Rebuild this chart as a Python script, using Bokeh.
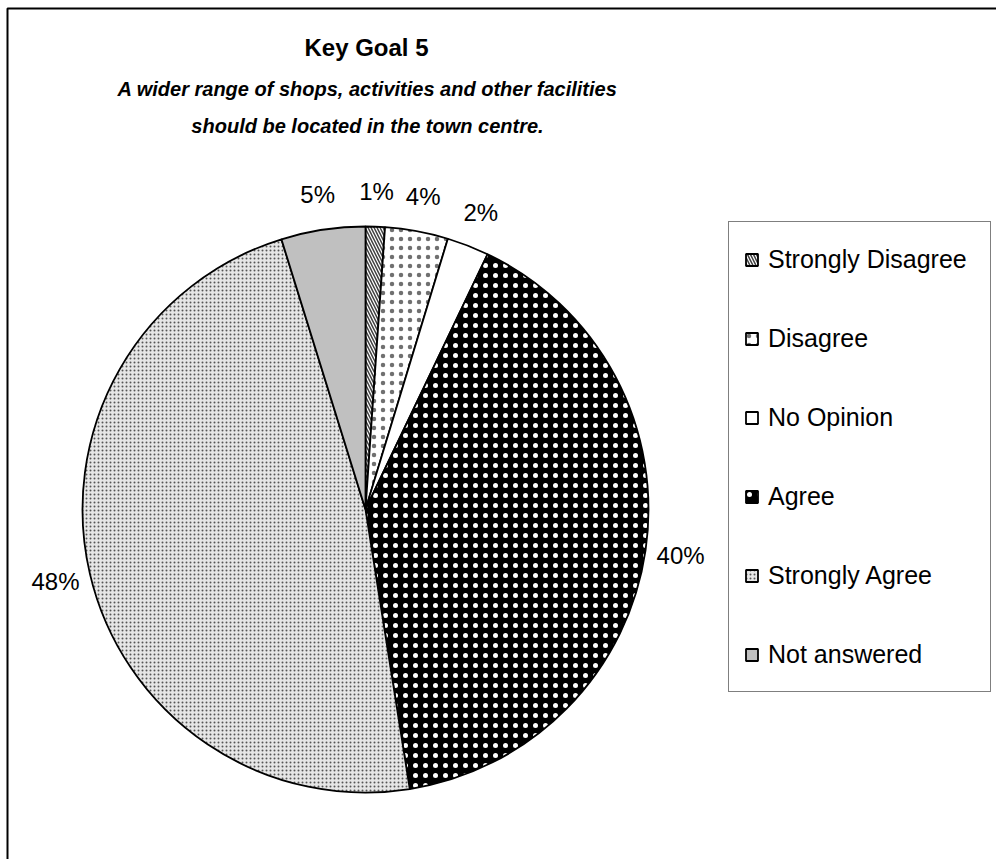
import math
from bokeh.plotting import figure
from bokeh.models import ColumnDataSource, Legend, LegendItem
from bokeh.core.properties import value
from bokeh.embed import file_html
from bokeh.resources import INLINE

# ---- data ----
categories = ["Strongly Disagree", "Disagree", "No Opinion", "Agree", "Strongly Agree", "Not answered"]
percentages = [1.1, 3.6, 2.4, 40.4, 47.7, 4.8]
title_text = "Key Goal 5"
subtitle_lines = ["A wider range of shops, activities and other facilities",
                  "should be located in the town centre."]

# ---- styles ----
fill_colors = ["white", "white", "white", "black", "#e6e6e6", "#c0c0c0"]
hatch_patterns = ["\\", ".", " ", ".", ".", " "]
hatch_colors = ["#404040", "#707070", "black", "white", "#555555", "black"]
hatch_scales = [6, 9, 8, 10, 4, 8]
hatch_weights = [1.5, 0.4, 1, 0.5, 1.2, 1]

W, H = 996, 859
FONT = "Liberation Sans"

p = figure(width=W, height=H, x_range=(0, W), y_range=(0, H),
           output_backend="svg", toolbar_location=None, min_border=0)
p.axis.visible = False
p.grid.visible = False
p.outline_line_color = None
p.background_fill_color = "white"
p.border_fill_color = "white"

# outer frame (extends past right / bottom edges like the original)
p.quad(left=[7], right=[W + 40], bottom=[-40], top=[H - 8],
       fill_color=None, line_color="black", line_width=2)

# ---- pie geometry ----
cx, cy, R = 365, H - 509, 283
total = sum(percentages)
starts, ends, mids = [], [], []
acc = 0.0
for v in percentages:
    a0 = acc / total * 2 * math.pi          # clockwise from 12 o'clock
    acc += v
    a1 = acc / total * 2 * math.pi
    starts.append(math.pi / 2 - a1)         # bokeh: anticlockwise from +x
    ends.append(math.pi / 2 - a0)
    mids.append((a0 + a1) / 2)

src = ColumnDataSource(dict(
    cat=categories, val=percentages, start=starts, end=ends,
    fill=fill_colors, hp=hatch_patterns, hc=hatch_colors, hs=hatch_scales, hw=hatch_weights,
))

wedges = p.wedge(x=cx, y=cy, radius=R, start_angle="start", end_angle="end",
                 fill_color="fill", hatch_pattern="hp", hatch_color="hc",
                 hatch_scale="hs", hatch_weight="hw",
                 line_color="black", line_width=1.8, source=src)

# ---- data labels ----
RL = R * 1.125
lab_src = ColumnDataSource(dict(
    x=[cx + RL * math.sin(m) for m in mids],
    y=[cy + RL * math.cos(m) for m in mids],
    t=[f"{round(v)}%" for v in percentages],
))
p.text(x="x", y="y", text="t", source=lab_src, text_align="center",
       text_baseline="middle", text_font=value(FONT), text_font_size="24px",
       text_color="black")

# ---- titles ----
p.text(x=[366], y=[H - 47], text=[title_text], text_align="center", text_baseline="middle",
       text_font=value(FONT), text_font_style="bold", text_font_size="24px", text_color="black")
p.text(x=[367, 367], y=[H - 88, H - 125], text=subtitle_lines, text_align="center",
       text_baseline="middle", text_font=value(FONT), text_font_style="bold italic",
       text_font_size="20px", text_color="black")

# ---- legend ----
items = [LegendItem(label=c, renderers=[wedges], index=i) for i, c in enumerate(categories)]
legend = Legend(items=items, location=(728, H - 692),
                padding=15, spacing=35, label_height=44, glyph_height=15, glyph_width=15,
                label_standoff=9, label_width=207,
                label_text_font=FONT, label_text_font_size="25px", label_text_color="black",
                border_line_color="black", border_line_width=1.2,
                background_fill_color="white", background_fill_alpha=1)
p.add_layout(legend)

open("out.html", "w").write(file_html(p, INLINE))
